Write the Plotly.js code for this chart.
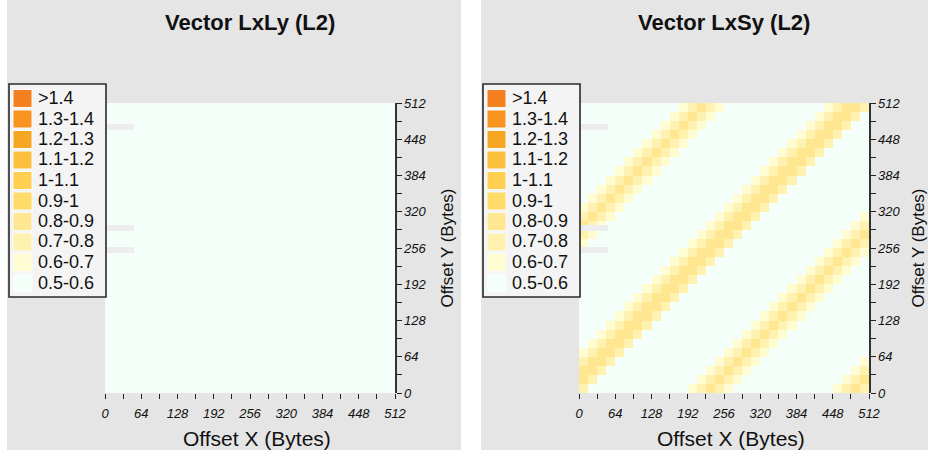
<!DOCTYPE html>
<html><head><meta charset="utf-8">
<script src="https://cdn.plot.ly/plotly-3.0.1.min.js"></script>
<style>html,body{margin:0;padding:0;background:#fff}#chart{width:928px;height:456px}</style>
</head><body><div id="chart"></div>
<script>
// ---- data ----
const panelTitles = ["Vector LxLy (L2)", "Vector LxSy (L2)"];
const xTitle = "Offset X (Bytes)";
const yTitle = "Offset Y (Bytes)";
const binLabels = [">1.4", "1.3-1.4", "1.2-1.3", "1.1-1.2", "1-1.1", "0.9-1", "0.8-0.9", "0.7-0.8", "0.6-0.7", "0.5-0.6"];
const binColors = ["#F47F1E", "#F7931E", "#F6A623", "#FCC13C", "#FECF50", "#FFDB6A", "#FFE690", "#FFF1B0", "#FFFCD2", "#F5FFF9"];
const binLower  = [1.4, 1.3, 1.2, 1.1, 1.0, 0.9, 0.8, 0.7, 0.6, 0.5];
const levelValue = {"0": 0.55, "1": 0.65, "2": 0.75, "3": 0.85};
const offsetEdges = [0,16,32,48,64,80,96,112,128,144,160,176,192,208,224,240,256,272,288,304,320,336,352,368,384,400,416,432,448,464,480,496,512];
const tickVals = [0,64,128,192,256,320,384,448,512];
const axisRange = [0, 512];
// rows from Offset Y = 0 (bottom) upward, one char per 16-byte cell
const rowsLxLy = [
"00000000000000000000000000000000","00000000000000000000000000000000","00000000000000000000000000000000","00000000000000000000000000000000",
"00000000000000000000000000000000","00000000000000000000000000000000","00000000000000000000000000000000","00000000000000000000000000000000",
"00000000000000000000000000000000","00000000000000000000000000000000","00000000000000000000000000000000","00000000000000000000000000000000",
"00000000000000000000000000000000","00000000000000000000000000000000","00000000000000000000000000000000","00000000000000000000000000000000",
"00000000000000000000000000000000","00000000000000000000000000000000","00000000000000000000000000000000","00000000000000000000000000000000",
"00000000000000000000000000000000","00000000000000000000000000000000","00000000000000000000000000000000","00000000000000000000000000000000",
"00000000000000000000000000000000","00000000000000000000000000000000","00000000000000000000000000000000","00000000000000000000000000000000",
"00000000000000000000000000000000","00000000000000000000000000000000","00000000000000000000000000000000","00000000000000000000000000000000"
];
const rowsLxSy = [
"20000000000012321000000000001232",
"32000000000001232100000000000123",
"33200000000000123210000000000012",
"23320000000000012321000000000001",
"12332000000000001232100000000000",
"01233200000000000123210000000000",
"00123320000000000012321000000000",
"00012332000000000001232100000000",
"00001233200000000000123210000000",
"00000123320000000000012321000000",
"00000012332000000000001232100000",
"00000001233200000000000123210000",
"00000000123320000000000012321000",
"00000000012332000000000001232100",
"00000000001233200000000000123210",
"00000000000123320000000000012321",
"10000000000012332000000000001232",
"21000000000001233200000000000123",
"32100000000000123320000000000012",
"23210000000000012332000000000001",
"12321000000000001233200000000000",
"01232100000000000123320000000000",
"00123210000000000012332000000000",
"00012321000000000001233200000000",
"00001232100000000000123320000000",
"00000123210000000000012332000000",
"00000012321000000000001233200000",
"00000001232100000000000123320000",
"00000000123210000000000012332000",
"00000000012321000000000001233200",
"00000000001232100000000000123320",
"00000000000123210000000000012332"
];

// ---- build ----
const W = 928, H = 456;
const px = x => x / W, py = y => 1 - y / H;
const FONT = "Liberation Sans, Arial, Helvetica, sans-serif";
const toZ = rows => rows.map(r => r.split("").map(c => levelValue[c]));

// discrete colour scale 0.5..1.5 in 0.1 bins
const asc = binColors.slice().reverse();
const colorscale = [];
asc.forEach((c, k) => { colorscale.push([k / 10, c]); colorscale.push([(k + 1) / 10, c]); });

const panels = [
  {rows: rowsLxLy, dx: 0},
  {rows: rowsLxSy, dx: 474}
];
const plotL = 105, plotR = 395, plotT = 103, plotB = 393;

const data = panels.map((p, i) => ({
  type: "heatmap",
  x: offsetEdges, y: offsetEdges, z: toZ(p.rows),
  zmin: 0.5, zmax: 1.5, colorscale: colorscale, showscale: false,
  zsmooth: false, hoverinfo: "skip",
  xaxis: i ? "x2" : "x", yaxis: i ? "y2" : "y"
}));

function xAxis(dx) {
  return {
    domain: [px(plotL + dx), px(plotR + dx)], range: axisRange, anchor: dx ? "y2" : "y",
    tickmode: "array", tickvals: tickVals, ticktext: tickVals.map(String),
    ticks: "outside", ticklen: 5, tickwidth: 1, tickcolor: "#222", ticklabelstandoff: 3,
    minor: {dtick: 32, tick0: 0, ticks: "outside", ticklen: 5, tickwidth: 1, tickcolor: "#222"},
    showgrid: false, zeroline: false, showline: false, fixedrange: true,
    tickfont: {family: FONT, size: 13, color: "#111", style: "italic"}
  };
}
function yAxis(dx) {
  return {
    domain: [py(plotB), py(plotT)], range: axisRange, anchor: dx ? "x2" : "x", side: "right",
    tickmode: "array", tickvals: tickVals, ticktext: tickVals.map(String),
    ticks: "outside", ticklen: 5, tickwidth: 1, tickcolor: "#222",
    minor: {dtick: 32, tick0: 0, ticks: "outside", ticklen: 5, tickwidth: 1, tickcolor: "#222"},
    showgrid: false, zeroline: false, showline: true, linecolor: "#333", linewidth: 1.5, fixedrange: true,
    tickfont: {family: FONT, size: 13, color: "#111", style: "italic"},
    title: {text: yTitle, font: {family: FONT, size: 17, color: "#111"}, standoff: 15}
  };
}

const shapes = [], annotations = [];
panels.forEach((p, i) => {
  const dx = p.dx;
  // panel background
  shapes.push({type: "rect", xref: "paper", yref: "paper", layer: "below",
    x0: px(7 + dx), x1: px(Math.min(461 + dx, W)), y0: py(450), y1: py(0),
    fillcolor: "#E5E5E5", line: {width: 0}});
  // faint legend shadow bars in plot
  [[124, 130], [225, 231], [247, 253]].forEach(b => shapes.push({type: "rect", xref: "paper", yref: "paper",
    x0: px(plotL + dx), x1: px(134 + dx), y0: py(b[1]), y1: py(b[0]),
    fillcolor: "#EDEDED", line: {width: 0}}));
  // legend box
  shapes.push({type: "rect", xref: "paper", yref: "paper",
    x0: px(9 + dx), x1: px(106 + dx), y0: py(297), y1: py(84),
    fillcolor: "#F4F4F4", line: {color: "#2a2a2a", width: 1.6}});
  binLabels.forEach((lab, k) => {
    const top = 89.5 + 20.5 * k;
    shapes.push({type: "rect", xref: "paper", yref: "paper",
      x0: px(13 + dx), x1: px(32 + dx), y0: py(top + 18), y1: py(top),
      fillcolor: binColors[k], line: {color: "#FAFAFA", width: 1}});
    annotations.push({xref: "paper", yref: "paper", x: px(36 + dx), y: py(top + 8.5),
      xanchor: "left", yanchor: "middle", showarrow: false, text: lab,
      font: {family: FONT, size: 18, color: "#111"}});
  });
  annotations.push({xref: "paper", yref: "paper", x: px((plotL + plotR) / 2 + dx), y: py(22),
    xanchor: "center", yanchor: "middle", showarrow: false, text: "<b>" + panelTitles[i] + "</b>",
    font: {family: FONT, size: 22, color: "#111"}});
  annotations.push({xref: "paper", yref: "paper", x: px((plotL + plotR) / 2 + 6.5 + dx), y: py(438),
    xanchor: "center", yanchor: "middle", showarrow: false, text: xTitle,
    font: {family: FONT, size: 21, color: "#111"}});
});

const layout = {
  width: W, height: H, margin: {l: 0, r: 0, t: 0, b: 0, autoexpand: false},
  paper_bgcolor: "#FFFFFF", plot_bgcolor: "#F5FFFA", showlegend: false,
  xaxis: xAxis(0), yaxis: yAxis(0), xaxis2: xAxis(474), yaxis2: yAxis(474),
  shapes: shapes, annotations: annotations
};
Plotly.newPlot("chart", data, layout, {staticPlot: true, displayModeBar: false});
</script>
</body></html>
